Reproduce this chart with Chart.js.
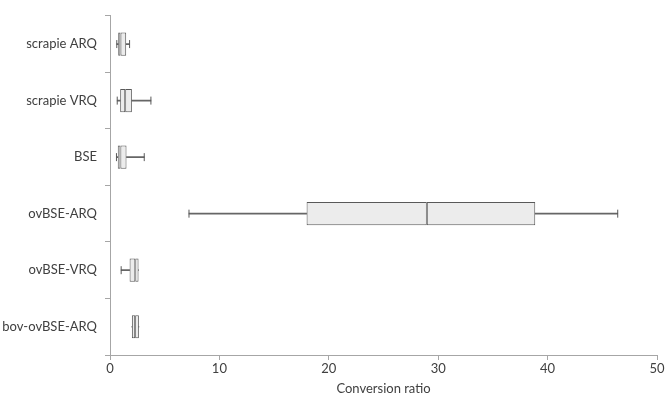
<!DOCTYPE html>
<html>
<head>
<meta charset="utf-8">
<script src="https://cdn.jsdelivr.net/npm/chart.js@4.4.1/dist/chart.umd.min.js"></script>
<style>
html,body{margin:0;padding:0;background:#fff;}
#wrap{width:666px;height:404px;position:relative;}
</style>
</head>
<body>
<div id="wrap"><canvas id="c" width="666" height="404"></canvas></div>
<script>
const categories = ['scrapie ARQ','scrapie VRQ','BSE','ovBSE-ARQ','ovBSE-VRQ','bov-ovBSE-ARQ'];
const mins    = [0.62, 0.66, 0.59, 7.22, 1.02, 2.00];
const q1s     = [0.75, 0.93, 0.71, 17.97, 1.79, 2.00];
const medians = [0.96, 1.39, 0.95, 28.96, 2.31, 2.30];
const q3s     = [1.48, 2.00, 1.51, 38.87, 2.61, 2.64];
const maxs    = [1.79, 3.74, 3.13, 46.41, 2.61, 2.64];
const xTicks  = [0, 10, 20, 30, 40, 50];

const LINE = '#595959';
const FILL = '#ececec';
const TEXT = '#404040';
const FONT = 'Lato';

const boxCommon = {
  type: 'bar', backgroundColor: FILL, borderColor: LINE, borderWidth: 1,
  borderSkipped: false, grouped: false, barPercentage: 0.41, categoryPercentage: 1
};
const whiskCommon = {
  type: 'bar', backgroundColor: '#666666', borderWidth: 0, grouped: false, barThickness: 1
};
const caps = [];
categories.forEach((c, i) => {
  if (mins[i] < q1s[i]) caps.push({x: mins[i], y: c});
  if (maxs[i] > q3s[i]) caps.push({x: maxs[i], y: c});
});

new Chart(document.getElementById('c'), {
  data: {
    labels: categories,
    datasets: [
      Object.assign({}, whiskCommon, {data: categories.map((c, i) => [mins[i], q1s[i]]), order: 3}),
      Object.assign({}, whiskCommon, {data: categories.map((c, i) => [q3s[i], maxs[i]]), order: 3}),
      Object.assign({}, boxCommon, {data: categories.map((c, i) => [q1s[i], medians[i]]), order: 1}),
      Object.assign({}, boxCommon, {data: categories.map((c, i) => [medians[i], q3s[i]]), order: 1}),
      {type: 'scatter', data: caps, pointStyle: 'line', rotation: 90, pointRadius: 4,
       borderColor: LINE, backgroundColor: LINE, pointBorderWidth: 1, order: 0}
    ]
  },
  options: {
    indexAxis: 'y',
    responsive: false,
    animation: false,
    layout: {padding: {top: 1, right: 9, left: 0, bottom: 0}},
    plugins: {legend: {display: false}, tooltip: {enabled: false}},
    scales: {
      x: {
        type: 'linear', min: 0, max: 50,
        afterBuildTicks: s => { s.ticks = xTicks.map(v => ({value: v})); },
        grid: {drawOnChartArea: false, drawTicks: true, tickLength: 5, color: '#a6a6a6'},
        border: {color: '#a6a6a6', width: 1},
        ticks: {color: TEXT, font: {family: FONT, size: 13}, padding: 1, maxRotation: 0},
        title: {display: true, text: 'Conversion ratio', color: TEXT, font: {family: FONT, size: 13}, padding: {top: 4, bottom: 7}},
        afterFit: s => { s.height = 49; }
      },
      y: {
        type: 'category', offset: true,
        grid: {offset: true, drawOnChartArea: false, drawTicks: true, tickLength: 5, color: '#a6a6a6'},
        border: {color: '#a6a6a6', width: 1},
        ticks: {color: TEXT, font: {family: FONT, size: 13}, padding: 8},
        afterFit: s => { s.width = 110; }
      }
    }
  }
});
</script>
</body>
</html>
